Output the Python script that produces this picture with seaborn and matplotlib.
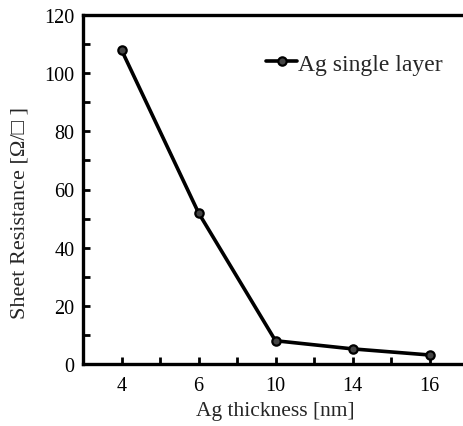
import matplotlib
matplotlib.use("Agg")
import matplotlib.pyplot as plt
from matplotlib.ticker import MultipleLocator
import seaborn as sns

thickness = ["4", "6", "10", "14", "16"]
resistance = [108, 52, 8, 5.2, 3.1]
series_name = "Ag single layer"

sns.set_style("ticks")
plt.rcParams['font.family'] = ['Liberation Serif', 'DejaVu Serif']

fig = plt.figure(figsize=(4.64, 4.27), dpi=100)
ax = fig.add_axes([83/464, 62/427, 385/464, 349/427])

sns.lineplot(x=thickness, y=resistance, marker='o', color='black', linewidth=2.6,
             markersize=6, markerfacecolor='#444444', markeredgecolor='black',
             markeredgewidth=1.6, label=series_name, ax=ax)

ax.set_xlim(-0.5, 4.5)
ax.set_ylim(0, 120)
ax.yaxis.set_major_locator(MultipleLocator(20))
ax.yaxis.set_minor_locator(MultipleLocator(10))
ax.xaxis.set_minor_locator(MultipleLocator(0.5))
ax.tick_params(which='both', direction='in', length=5, width=2, labelsize=14.5,
               colors='black', pad=9)
ax.tick_params(axis='y', pad=6)
for s in ['left', 'bottom', 'top']:
    ax.spines[s].set_linewidth(2.4)
    ax.spines[s].set_color('black')
ax.spines['right'].set_visible(False)

ax.set_xlabel("Ag thickness [nm]", fontsize=15.5, labelpad=4)
ax.set_ylabel("Sheet Resistance [Ω/□ ]", fontsize=16)
ax.yaxis.set_label_coords(-0.14, 0.435)

leg = ax.legend(loc='center right', bbox_to_anchor=(0.935, 0.86), frameon=False,
                fontsize=17, handlelength=1.3, handletextpad=0.05,
                borderaxespad=0, borderpad=0)

fig.savefig("out.png", dpi=100)
